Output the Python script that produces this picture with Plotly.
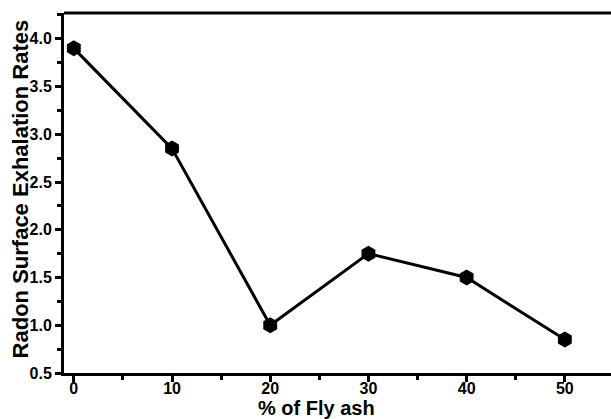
import plotly.graph_objects as go

fly_ash_pct = [0, 10, 20, 30, 40, 50]
exhalation_rate = [3.9, 2.85, 1.0, 1.75, 1.5, 0.85]
x_ticks = [0, 10, 20, 30, 40, 50]
y_ticks = [0.5, 1.0, 1.5, 2.0, 2.5, 3.0, 3.5, 4.0]

FONT = "Liberation Sans, Arial, sans-serif"

fig = go.Figure()
fig.add_trace(go.Scatter(
    x=fly_ash_pct, y=exhalation_rate, mode="lines+markers",
    line=dict(color="black", width=3),
    marker=dict(symbol="hexagon", size=16, color="black"),
    showlegend=False, cliponaxis=False,
))

fig.update_layout(
    width=611, height=419,
    margin=dict(l=64, r=0, t=13, b=46),
    paper_bgcolor="white", plot_bgcolor="white",
    font=dict(family=FONT, color="black", size=16, weight="bold"),
    xaxis=dict(
        range=[-1.0, 54.7], tickvals=x_ticks, ticktext=[str(v) for v in x_ticks],
        showline=True, linecolor="black", linewidth=3, showgrid=False, zeroline=False,
        ticks="outside", ticklen=6, tickwidth=3, tickcolor="black",
        minor=dict(ticks="outside", ticklen=4, tickwidth=3, tickcolor="black", dtick=5, tick0=0),
        tickfont=dict(family=FONT, size=16, weight="bold"),
        ticklabelstandoff=-7,
    ),
    yaxis=dict(
        range=[0.5, 4.27], tickvals=y_ticks, ticktext=[f"{v:.1f}" for v in y_ticks],
        showline=True, linecolor="black", linewidth=3, showgrid=False, zeroline=False,
        ticks="outside", ticklen=6, tickwidth=3, tickcolor="black",
        minor=dict(ticks="outside", ticklen=4, tickwidth=3, tickcolor="black", dtick=0.25, tick0=0.5),
        tickfont=dict(family=FONT, size=16, weight="bold"),
    ),
    shapes=[dict(type="line", xref="paper", yref="paper", x0=0, x1=1, y0=1, y1=1,
                 line=dict(color="black", width=3))],
    annotations=[
        dict(text="% of Fly ash", xref="x", yref="paper", x=24.7, y=0,
             yshift=-35, showarrow=False, yanchor="middle", xanchor="center",
             font=dict(family=FONT, size=20, weight="bold")),
        dict(text="Radon Surface Exhalation Rates", xref="paper", yref="paper",
             x=0, y=0.51, xshift=-44, textangle=-90, showarrow=False,
             xanchor="center", yanchor="middle",
             font=dict(family=FONT, size=22, weight="bold")),
    ],
)

fig.write_html("out.html", config={"displayModeBar": False},
               post_script="document.body.style.margin='0';document.body.style.overflow='hidden';")
